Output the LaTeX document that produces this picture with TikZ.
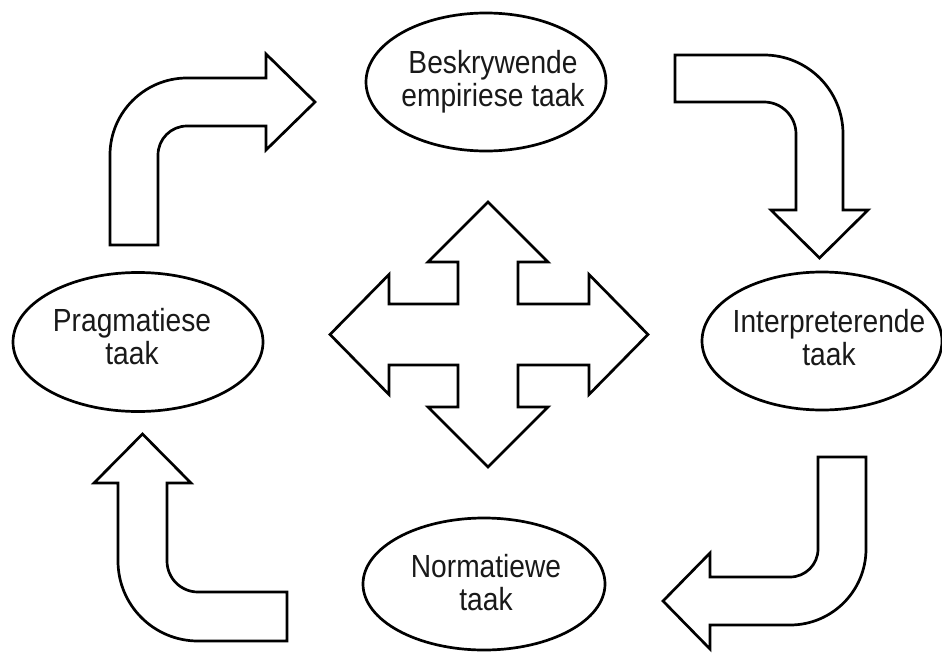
\documentclass[tikz,border=0pt]{standalone}
\usepackage{fontspec}
\newfontfamily\lblfont{Liberation Sans}[FakeStretch=0.88]
\usetikzlibrary{shapes.geometric}
\tikzset{
  shapeline/.style={draw=black, line width=2.7pt, fill=white, line join=miter},
  taskell/.style={shapeline, ellipse, inner sep=0pt},
  tasktext/.style={font=\lblfont\fontsize{32}{33}\selectfont, align=center, inner sep=0pt, text=black!90}
}
\begin{document}
\begin{tikzpicture}[x=1pt,y=-1pt]
\useasboundingbox (0,0) rectangle (942,653);

% ellipses
\node[taskell, minimum width=240pt, minimum height=138pt] (bes) at (486,82) {};
\node[tasktext] (best) at (493,82) {Beskrywende\\empiriese taak};

\node[taskell, minimum width=240pt, minimum height=138pt] (int) at (822,341) {};
\node[tasktext] (intt) at (829,338) {Interpreterende\\taak};

\node[taskell, minimum width=250pt, minimum height=139pt] (prag) at (138,342) {};
\node[tasktext] (pragt) at (132,337) {Pragmatiese\\taak};

\node[taskell, minimum width=242pt, minimum height=132pt] (norm) at (484,584) {};
\node[tasktext] (normt) at (486,583) {Normatiewe\\taak};

% top-left bent arrow
\draw[shapeline] (110,245) -- (110,155) .. controls (110,112.5) and (144.5,78) .. (187,78)
  -- (266,78) -- (266,54) -- (315,102) -- (266,150) -- (266,126) -- (187,126)
  .. controls (171,126) and (158,139) .. (158,155) -- (158,245) -- cycle;

% top-right bent arrow
\draw[shapeline] (675,55) -- (764,55) .. controls (807.6,55) and (843,90.4) .. (843,134)
  -- (843,210) -- (868,210) -- (819.5,258) -- (771,210) -- (796,210) -- (796,134)
  .. controls (796,116.3) and (781.7,102) .. (764,102) -- (675,102) -- cycle;

% bottom-right bent arrow
\draw[shapeline] (818,457) -- (866,457) -- (866,549) .. controls (866,591) and (832,625) .. (790,625)
  -- (710,625) -- (710,649) -- (663,601) -- (710,553) -- (710,577) -- (790,577)
  .. controls (805.5,577) and (818,564.5) .. (818,549) -- cycle;

% bottom-left bent arrow
\draw[shapeline] (287,592) -- (198,592) .. controls (180.9,592) and (167,578.1) .. (167,561)
  -- (167,483) -- (191,483) -- (142.5,434) -- (94,483) -- (118,483) -- (118,561)
  .. controls (118,605.2) and (153.8,641) .. (198,641) -- (287,641) -- cycle;

% four-way arrow
\draw[shapeline] (488,202) -- (548,262) -- (518,262) -- (518,304) -- (589,304) -- (589,274.5)
  -- (648,334.5) -- (589,394.5) -- (589,365) -- (518,365) -- (518,407) -- (548,407)
  -- (488,467) -- (428,407) -- (458,407) -- (458,365) -- (389,365) -- (389,394.5)
  -- (330,334.5) -- (389,274.5) -- (389,304) -- (458,304) -- (458,262) -- (428,262) -- cycle;
\end{tikzpicture}
\end{document}
